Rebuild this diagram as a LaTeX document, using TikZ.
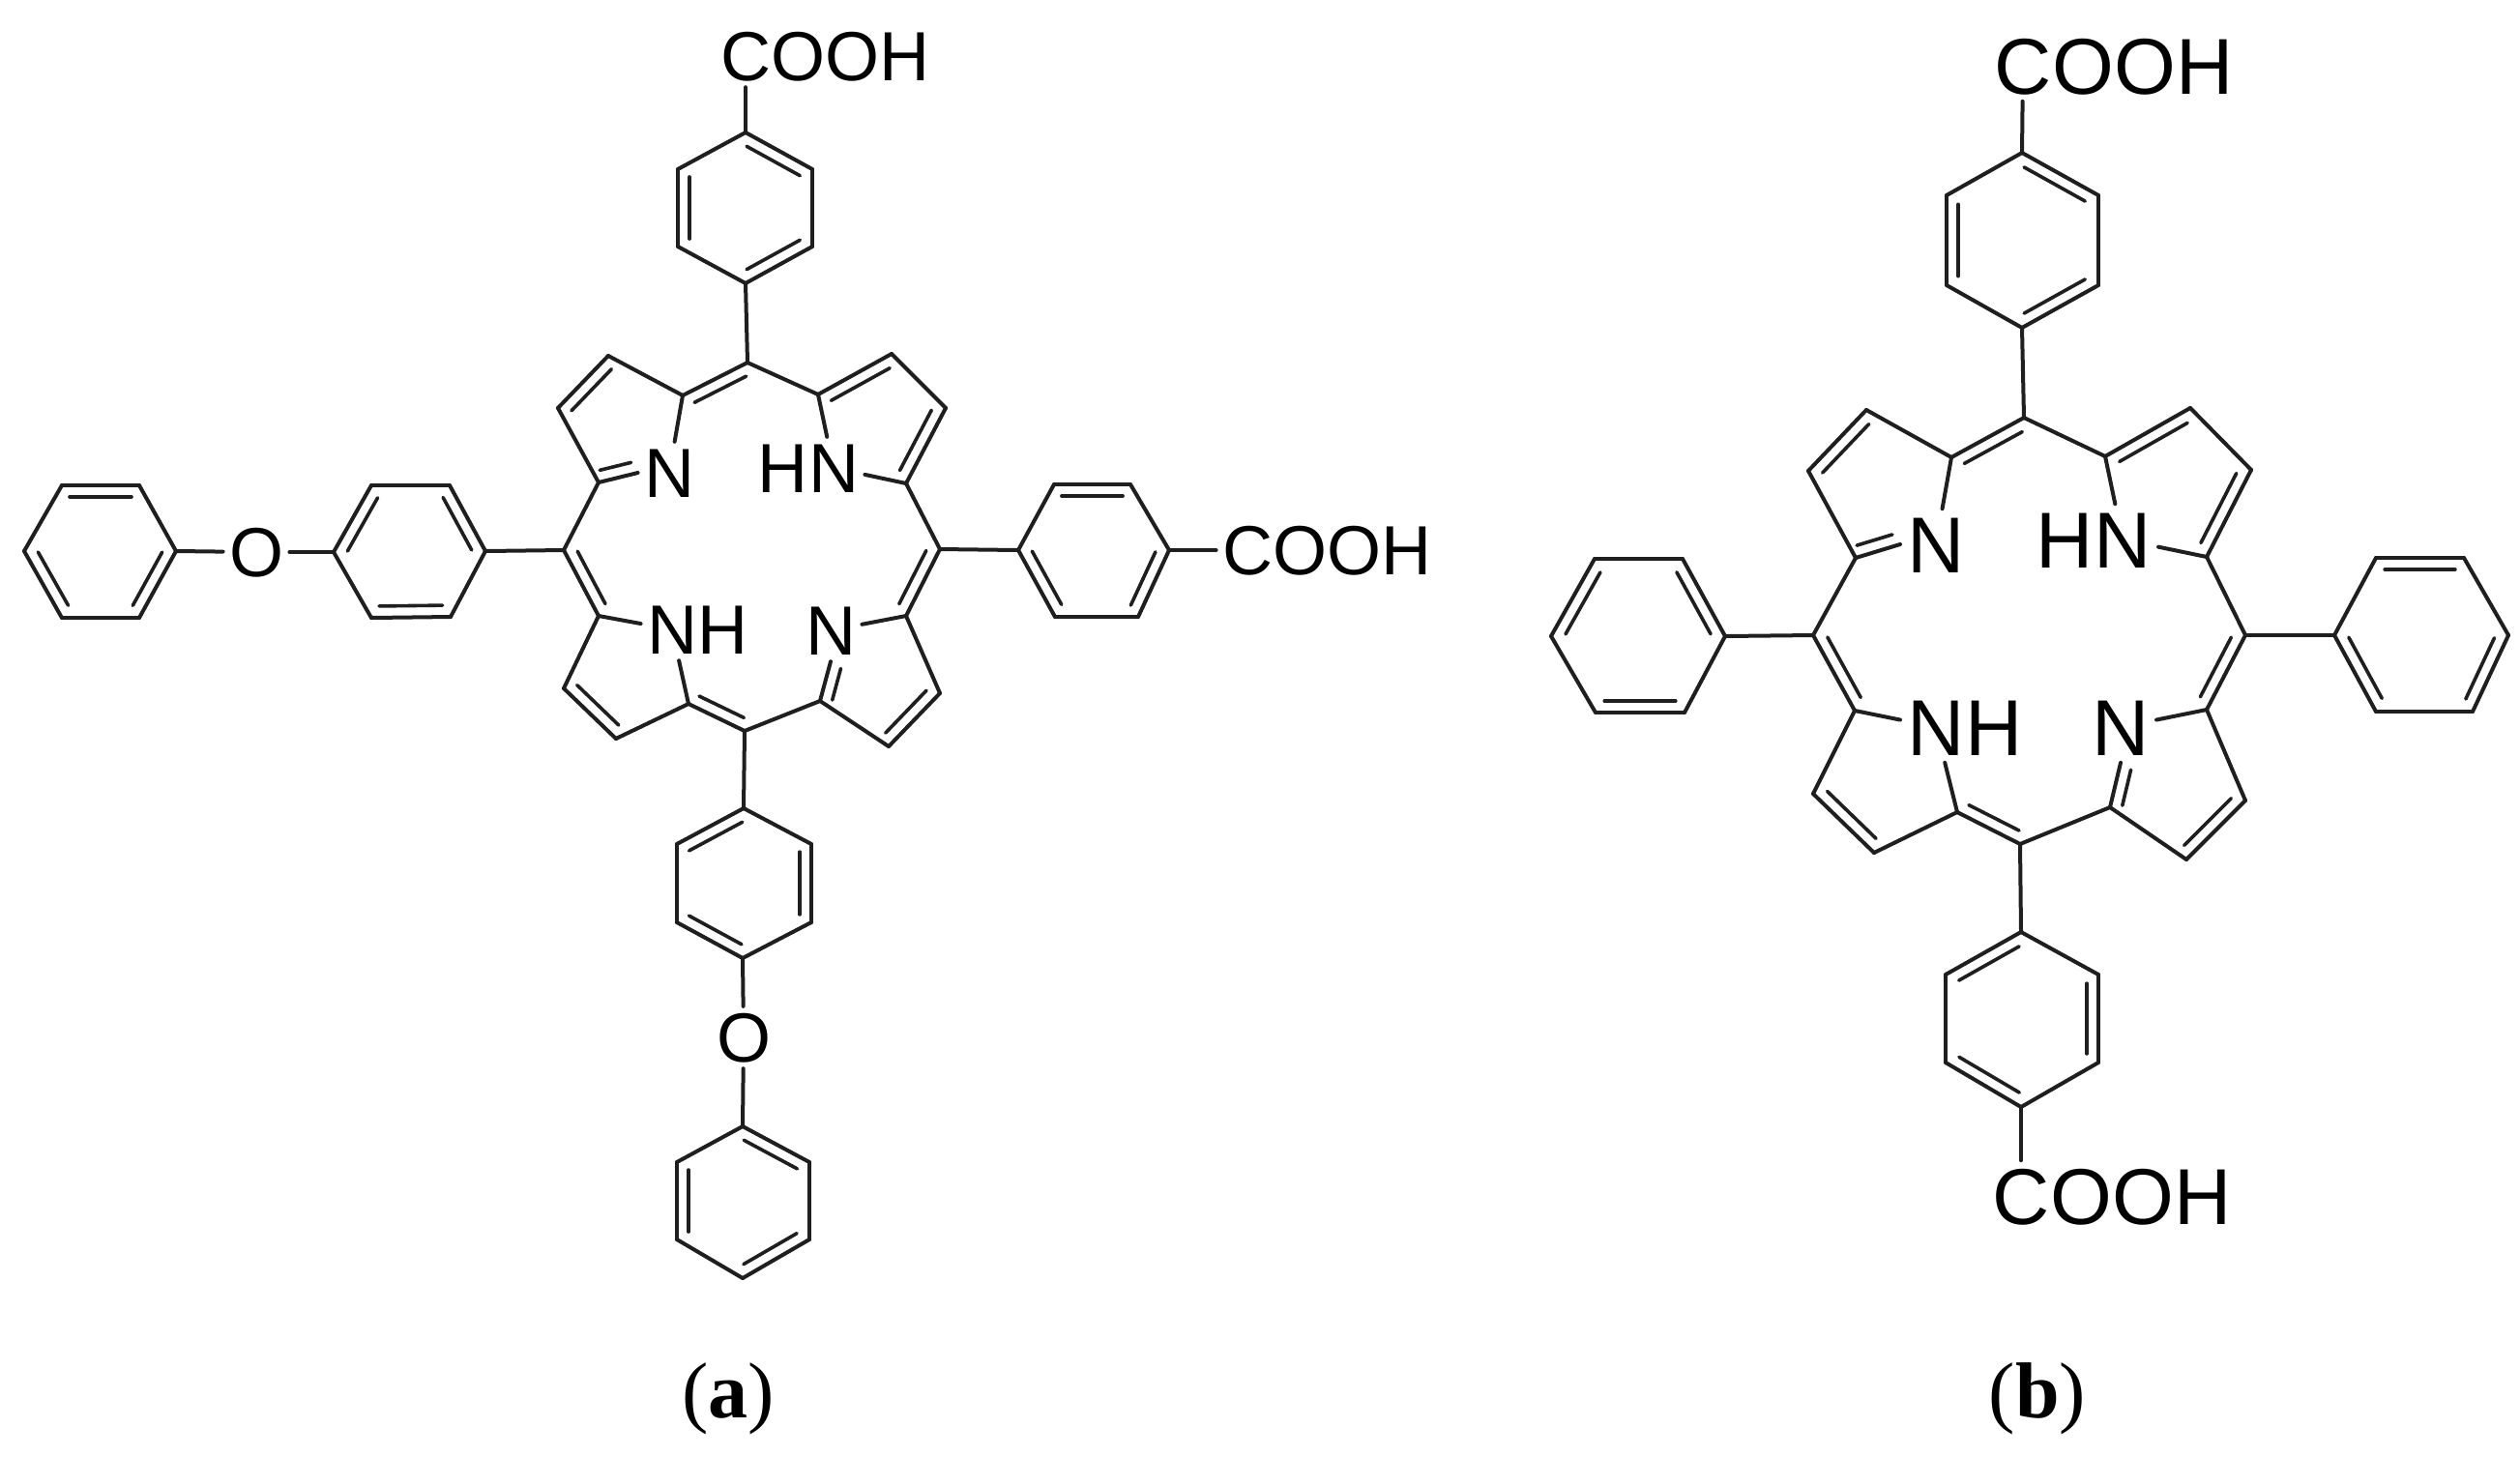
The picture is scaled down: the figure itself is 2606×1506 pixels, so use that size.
\documentclass[tikz,border=0pt]{standalone}
\usepackage{fontspec}
\setmainfont{Liberation Sans}
\newfontfamily\capfont{Liberation Serif}
\usetikzlibrary{calc, positioning}
\newcommand{\dbl}[2]{
  \draw[bond] (#1) -- (#2);
  \draw[inner] ($(#1)!.1!(#2)!6pt!90:(#2)$) -- ($(#2)!.1!(#1)!6pt!-90:(#1)$);
}
\tikzset{
  bond/.style = {line width=2pt, color=black!88, line cap=round, line join=round},
  inner/.style = {line width=1.8pt, color=black!88, line cap=round},
  atomA/.style = {inner sep=3pt, text height=25.8pt, text depth=0pt, font=\fontsize{36}{36}\selectfont},
  atomB/.style = {inner sep=3.5pt, text height=29.4pt, text depth=0pt, font=\fontsize{41}{41}\selectfont},
  caption/.style = {inner sep=0pt, font=\capfont\fontsize{41}{41}\selectfont}
}

\begin{document}
\begin{tikzpicture}[x=.5pt, y=-.5pt]
    \useasboundingbox (0,0) rectangle (2606,1506);
    \foreach \n/\x/\y in {aT/773/375, aL/583/569, aB/770/756, aR/972/568,
      ac1/706/409, ad1/629/368, ad2/577/422, ac2/619/499,
      ac3/619/637, ad3/583/712, ad4/637/764, ac4/712/728,
      ac5/848/725, ad5/919/772, ad6/972/717, ac6/937/637,
      ac7/937/500, ad7/978/422, ad8/922/366, ac8/846/408,
      bT/2093/432, bL/1875/657, bB/2089/873, bR/2322/657,
      bc1/2018/473, bd1/1930/424, bd2/1870/487, bc2/1919/577,
      bc3/1918/735, bd3/1875/821, bd4/1938/882, bc4/2024/840,
      bc5/2182/835, bd5/2261/889, bd6/2322/828, bc6/2282/734,
      bc7/2282/576, bd7/2328/486, bd8/2265/422, bc8/2177/472} {
      \coordinate (\n) at (\x,\y);
    }
    \foreach \n/\x/\y in {aPU1/840/175, aPU2/771/137, aPU3/701/175, aPU4/701/255, aPU5/771/293, aPU6/840/255,
      aPD1/769/836, aPD2/700/873, aPD3/700/954, aPD4/768/991, aPD5/839/954, aPD6/839/873,
      aPX1/837/1202, aPX2/768/1165, aPX3/700/1202, aPX4/700/1282, aPX5/768/1322, aPX6/837/1282,
      aPR1/1169/501, aPR2/1090/501, aPR3/1053/569, aPR4/1091/638, aPR5/1177/638, aPR6/1209/569,
      aPZ1/144/502, aPZ2/64/502, aPZ3/25/570, aPZ4/64/639, aPZ5/144/639, aPZ6/182/570,
      aPL1/384/502, aPL2/345/571, aPL3/384/639, aPL4/466/638, aPL5/502/570, aPL6/465/502,
      bPU1/2170/202, bPU2/2091/158, bPU3/2013/202, bPU4/2013/295, bPU5/2091/339, bPU6/2170/295,
      bPD1/2090/964, bPD2/2012/1008, bPD3/2012/1099, bPD4/2090/1145, bPD5/2170/1099, bPD6/2170/1008,
      bPR1/2548/577, bPR2/2457/577, bPR3/2414/657, bPR4/2457/736, bPR5/2557/736, bPR6/2594/657,
      bPL1/1649/578, bPL2/1604/658, bPL3/1650/737, bPL4/1742/737, bPL5/1784/658, bPL6/1740/578} {
      \coordinate (\n) at (\x,\y);
    }
    \foreach \n/\x/\y/\t in {aN1/692/489/N, aN2/862/484/N, aN3/695/651/N, aN4/859/652/N, aO1/769/1073/O, aO2/265/571/O, aCU/771/58/C, aCR/1290/569/C} {
      \node[atomA] (\n) at (\x,\y) {\t};
    }
    \foreach \n/\x/\y/\t in {bN1/2002/563/N, bN2/2195/558/N, bN3/2002/752/N, bN4/2193/752/N, bCU/2092/68/C, bCD/2090/1237/C} {
      \node[atomB] (\n) at (\x,\y) {\t};
    }
    \node[atomA, left=-6pt of aN2] (aH2) {H};
    \node[atomA, right=-6pt of aN3] (aH3) {H};
    \node[atomB, left=-7pt of bN2] (bH2) {H};
    \node[atomB, right=-7pt of bN3] (bH3) {H};
    \foreach \n in {aCU, aCR} {
      \node[atomA, right=-6pt of \n] (\n t) {OOH};
    }
    \foreach \n in {bCU, bCD} {
      \node[atomB, right=-7pt of \n] (\n t) {OOH};
    }
    \foreach \m in {a, b} {
      \foreach \i/\j in {T/c8, c1/d1, d2/c2, c2/L, c3/d3, d4/c4, B/c5, c5/d5, d6/c6, c7/R, d7/d8, c8/N2, c7/N2, c1/N1, c3/N3, c4/N3, c6/N4} {
        \draw[bond] (\m\i) -- (\m\j);
      }
      \foreach \i/\j in {T/c1, d1/d2, L/c3, d3/d4, c4/B, d5/d6, c6/R, c7/d7, d8/c8} {
        \dbl{\m\i}{\m\j}
      }
      \dbl{\m c2}{\m N1.west}
      \dbl{\m N4.south}{\m c5}
    }
    \foreach \r in {aPU, aPD, aPX, aPR, aPZ, aPL, bPU, bPD, bPR, bPL} {
      \foreach \i/\j in {1/2, 3/4, 5/6} {
        \dbl{\r\i}{\r\j}
      }
      \foreach \i/\j in {2/3, 4/5, 6/1} {
        \draw[bond] (\r\i) -- (\r\j);
      }
    }
    \foreach \i/\j in {aT/aPU5, aPU2/aCU, aB/aPD1, aPD4/aO1, aO1/aPX2, aL/aPL5, aPL2/aO2, aO2/aPZ6, aR/aPR3, aPR6/aCR,
      bT/bPU5, bPU2/bCU, bB/bPD1, bPD4/bCD, bL/bPL5, bR/bPR3} {
      \draw[bond] (\i) -- (\j);
    }
    \node[caption] (capA) at (753,1447) {(\textbf{a})};
    \node[caption] (capB) at (2107,1447) {(\textbf{b})};
  \end{tikzpicture}
\end{document}
